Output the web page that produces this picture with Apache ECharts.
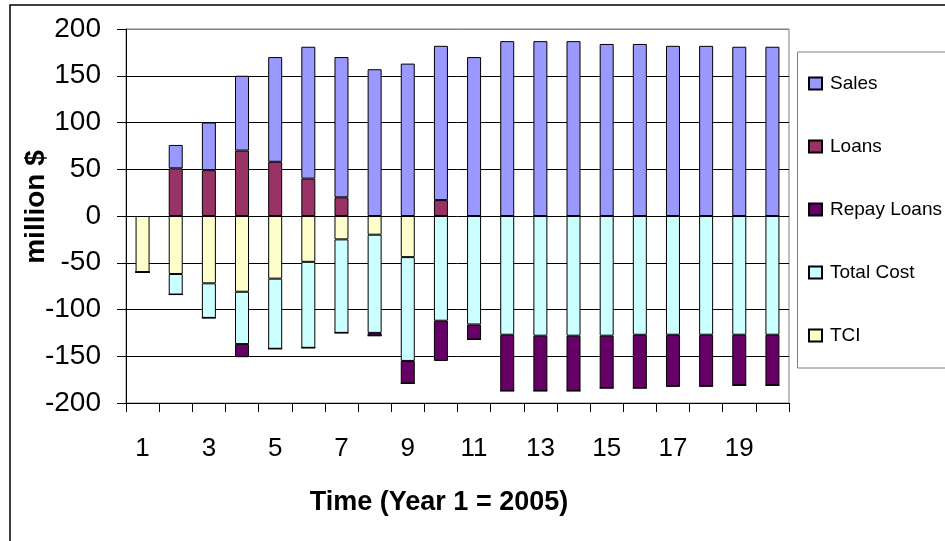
<!DOCTYPE html>
<html>
<head>
<meta charset="utf-8">
<script src="https://cdn.jsdelivr.net/npm/echarts@6/dist/echarts.min.js"></script>
<style>
html,body{margin:0;padding:0;background:#fff;}
#chart{width:945px;height:541px;}
</style>
</head>
<body>
<div id="chart"></div>
<script>
var years = ['1','2','3','4','5','6','7','8','9','10','11','12','13','14','15','16','17','18','19','20'];
var sales = [0, 25, 51, 80, 112, 141, 150, 157, 163, 165, 170, 187, 187, 187, 184, 184, 182, 182, 181, 181];
var loans = [0, 51, 49, 70, 58, 40, 20, 0, 0, 17, 0, 0, 0, 0, 0, 0, 0, 0, 0, 0];
var tci = [-60, -62, -72, -81, -67, -49, -25, -20, -44, 0, 0, 0, 0, 0, 0, 0, 0, 0, 0, 0];
var totalCost = [0, -22, -37, -56, -75, -92, -100, -105, -111, -112, -116, -127, -128, -128, -128, -127, -127, -127, -127, -127];
var repayLoans = [0, 0, 0, -14, 0, 0, 0, -3, -24, -43, -16, -60, -59, -59, -56, -57, -55, -55, -54, -54];
var yTicks = [-200, 200, 50];

var FONT = "'Liberation Sans', Arial, sans-serif";
var chart = echarts.init(document.getElementById('chart'), null, {renderer: 'canvas'});

function bar(name, data, color) {
  return {
    name: name,
    type: 'bar',
    stack: 'total',
    data: data,
    barWidth: 14,
    itemStyle: {color: color, borderColor: '#000', borderWidth: 1},
    emphasis: {disabled: true}
  };
}

chart.setOption({
  animation: false,
  backgroundColor: '#fff',
  grid: {left: 126, right: 156, top: 29, bottom: 138, show: true, borderColor: '#808080', borderWidth: 1, backgroundColor: 'transparent'},
  legend: {
    orient: 'vertical',
    left: 808,
    top: 74,
    padding: 0,
    itemGap: 44,
    itemWidth: 13,
    itemHeight: 12,
    icon: 'rect',
    data: ['Sales', 'Loans', 'Repay Loans', 'Total Cost', 'TCI'],
    textStyle: {fontFamily: FONT, fontSize: 19, color: '#000', padding: [0, 0, 0, 3]}
  },
  xAxis: {
    type: 'category',
    data: years,
    axisLine: {onZero: false, lineStyle: {color: '#000', width: 1}},
    axisTick: {show: true, interval: 0, length: 9, lineStyle: {color: '#000'}},
    axisLabel: {interval: 1, fontFamily: FONT, fontSize: 26, color: '#000', margin: 33},
    splitLine: {show: false}
  },
  yAxis: {
    type: 'value',
    min: yTicks[0],
    max: yTicks[1],
    interval: yTicks[2],
    axisLine: {show: true, lineStyle: {color: '#000', width: 1}},
    axisTick: {show: true, length: 9, lineStyle: {color: '#000'}},
    axisLabel: {fontFamily: FONT, fontSize: 28, color: '#000', margin: 25},
    splitLine: {show: true, lineStyle: {color: ['#000','#000','#000','#000','#000','#000','#000','#000','#808080'], width: 1}}
  },
  graphic: [
    {type: 'rect', silent: true, z: 100, shape: {x: 10, y: 5, width: 1000, height: 600}, style: {fill: 'none', stroke: '#000', lineWidth: 1.5}},
    {type: 'rect', silent: true, z: 100, shape: {x: 797.5, y: 52, width: 300, height: 316}, style: {fill: 'none', stroke: '#808080', lineWidth: 1}},
    {type: 'text', silent: true, z: 100, x: 36, y: 207, rotation: Math.PI / 2,
      style: {text: 'million $', font: 'bold 28px ' + FONT, fill: '#000', align: 'center', verticalAlign: 'middle'}},
    {type: 'text', silent: true, z: 100, x: 439, y: 503,
      style: {text: 'Time (Year 1 = 2005)', font: 'bold 27px ' + FONT, fill: '#000', align: 'center', verticalAlign: 'middle'}}
  ],
  series: [
    bar('TCI', tci, '#FFFFCC'),
    bar('Total Cost', totalCost, '#CCFFFF'),
    bar('Repay Loans', repayLoans, '#660066'),
    bar('Loans', loans, '#993366'),
    bar('Sales', sales, '#9999FF')
  ]
});
</script>
</body>
</html>
